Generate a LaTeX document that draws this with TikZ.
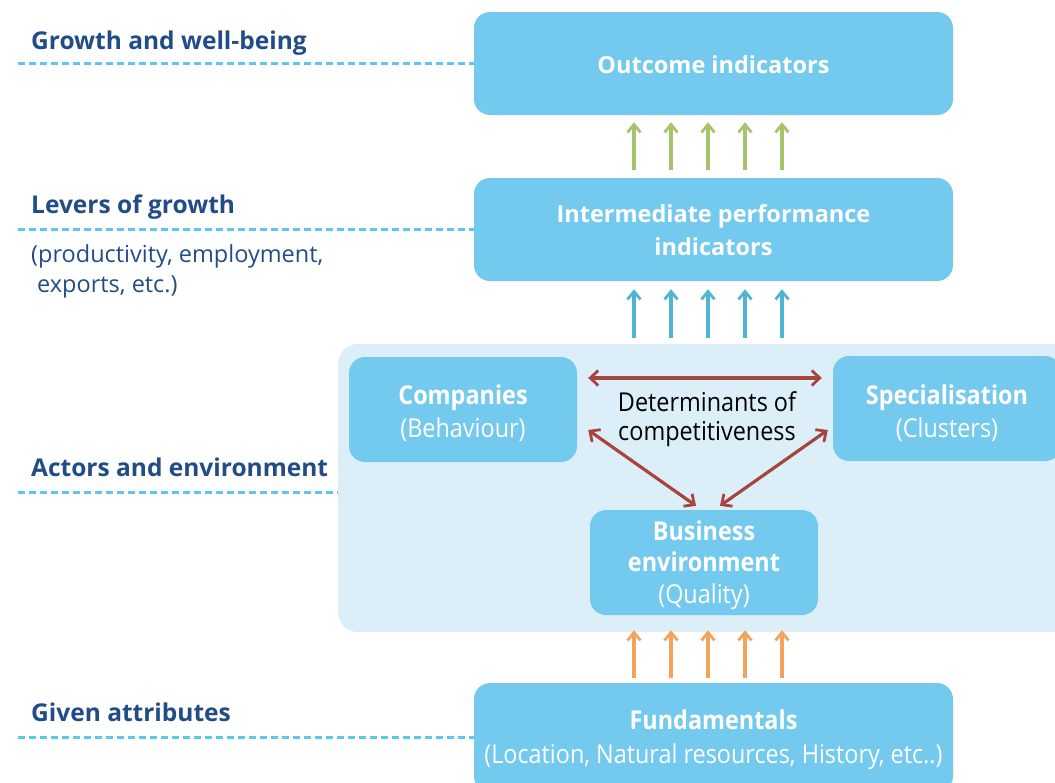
\documentclass[tikz,border=0pt]{standalone}
\usepackage{fontspec}
\setmainfont{Open Sans}
\newfontfamily\cond[FakeStretch=0.9]{Open Sans}
\usetikzlibrary{arrows.meta}
\definecolor{boxblue}{HTML}{73C9EE}
\definecolor{bgblue}{HTML}{DCEFF9}
\definecolor{navy}{HTML}{214C85}
\definecolor{dashblue}{HTML}{5EC6F0}
\definecolor{agreen}{HTML}{A5C46B}
\definecolor{ablue}{HTML}{4FB5D2}
\definecolor{aorange}{HTML}{F4A35A}
\definecolor{ared}{HTML}{A8443F}
\tikzset{
  box/.style={fill=boxblue, rounded corners=16pt, text=white, align=center, inner sep=0pt},
  boxtext/.style={text=white, align=center, inner sep=0pt},
  lbl/.style={anchor=west, text=navy, font=\fontsize{24.5}{30}\selectfont\bfseries, inner sep=0pt},
  sublbl/.style={anchor=north west, text=navy, align=left, font=\fontsize{23.5}{30}\selectfont, inner sep=0pt},
  dashline/.style={draw=dashblue, line width=3pt, dash pattern=on 7pt off 4pt},
  uparrow/.style={line width=3.2pt, -{Straight Barb[length=8pt,width=13pt,line width=2.8pt]}},
  redarrow/.style={draw=ared, line width=3.2pt, {Straight Barb[length=8pt,width=15pt,line width=2.8pt]}-{Straight Barb[length=8pt,width=15pt,line width=2.8pt]}},
}
\begin{document}
\begin{tikzpicture}[x=1pt,y=-1pt]
\useasboundingbox (0,0) rectangle (1055,782);
\begin{scope}
\clip (0,0) rectangle (1055,782);
% background panel
\fill[bgblue, rounded corners=20pt] (338,344) rectangle (1080,632);
\coordinate (bgw) at (338,492);

% main boxes
\node[box, minimum width=479, minimum height=103, font=\fontsize{23.5}{33}\selectfont\bfseries] (out) at (713.5,63.5) {};
\node[boxtext, font=\fontsize{23.5}{33}\selectfont\bfseries] (outt) at (713.5,64.5) {Outcome indicators};
\node[box, minimum width=479, minimum height=103, font=\fontsize{23.5}{33}\selectfont\bfseries] (mid) at (713.5,229.5) {};
\node[boxtext, font=\fontsize{23.5}{33}\selectfont\bfseries] (midt) at (713.5,230) {Intermediate performance\\indicators};
\node[box, minimum width=479, minimum height=109] (fund) at (713.5,737.5) {};
\node[boxtext, font=\fontsize{26}{34}\selectfont\cond] (fundt) at (713.5,739.5) {{\bfseries Fundamentals}\\(Location, Natural resources, History, etc..)};

\node[box, minimum width=228, minimum height=105] (comp) at (463,409.5) {};
\node[boxtext, font=\fontsize{26}{33}\selectfont\cond] (compt) at (463,413.5) {{\bfseries Companies}\\(Behaviour)};
\node[box, minimum width=228, minimum height=105] (spec) at (947,408.5) {};
\node[boxtext, font=\fontsize{26}{33}\selectfont\cond] (spect) at (947,413.5) {{\bfseries Specialisation}\\(Clusters)};
\node[box, minimum width=228, minimum height=105] (bus) at (704,562.5) {};
\node[boxtext, font=\fontsize{26}{31.5}\selectfont\cond] (bust) at (704,565) {{\bfseries Business}\\{\bfseries environment}\\(Quality)};
\node[align=center, text=black, font=\fontsize{26}{29}\selectfont\cond, inner sep=0pt] (det) at (707,419.5) {Determinants of\\competitiveness};

% upward arrows
\foreach \dx in {-79.5,-42.5,-5.5,31.5,68.5}{
  \draw[uparrow, agreen] ([xshift=\dx pt,yshift=8pt]mid.north) -- ([xshift=\dx pt,yshift=-7pt]out.south);
  \draw[uparrow, ablue] ([xshift=\dx pt,yshift=-57pt]mid.south) -- ([xshift=\dx pt,yshift=-8pt]mid.south);
  \draw[uparrow, aorange] ([xshift=\dx pt,yshift=5pt]fund.north) -- ([xshift=\dx pt+9.5pt,yshift=-15pt]bus.south);
}

% red arrows
\draw[redarrow] ([xshift=11pt,yshift=31.5pt]comp.east) -- ([xshift=-11pt,yshift=30.5pt]spec.west);
\draw[redarrow] ([xshift=11pt,yshift=-20.5pt]comp.east) -- ([xshift=-8pt,yshift=4pt]bus.north);
\draw[redarrow] ([xshift=-5pt,yshift=-21.5pt]spec.west) -- ([xshift=16pt,yshift=4pt]bus.north);

% left labels and dashed lines
\node[lbl] (l1) at (31,43) {Growth and well-being};
\node[lbl] (l2) at (31,207.5) {Levers of growth};
\node[sublbl] (l2s) at (31,244) {(productivity, employment,\\\hspace*{6pt}exports, etc.)};
\node[lbl] (l3) at (31,467.5) {Actors and environment};
\node[lbl] (l4) at (31,712.5) {Given attributes};
\coordinate (d1) at (18,63.5);
\coordinate (d2) at (18,229.5);
\coordinate (d3) at (18,492);
\coordinate (d4) at (18,737.5);
\draw[dashline] (d1) -- (out.west);
\draw[dashline] (d2) -- (mid.west);
\draw[dashline] (d3) -- (bgw);
\draw[dashline] (d4) -- (fund.west);
\end{scope}
\end{tikzpicture}
\end{document}
